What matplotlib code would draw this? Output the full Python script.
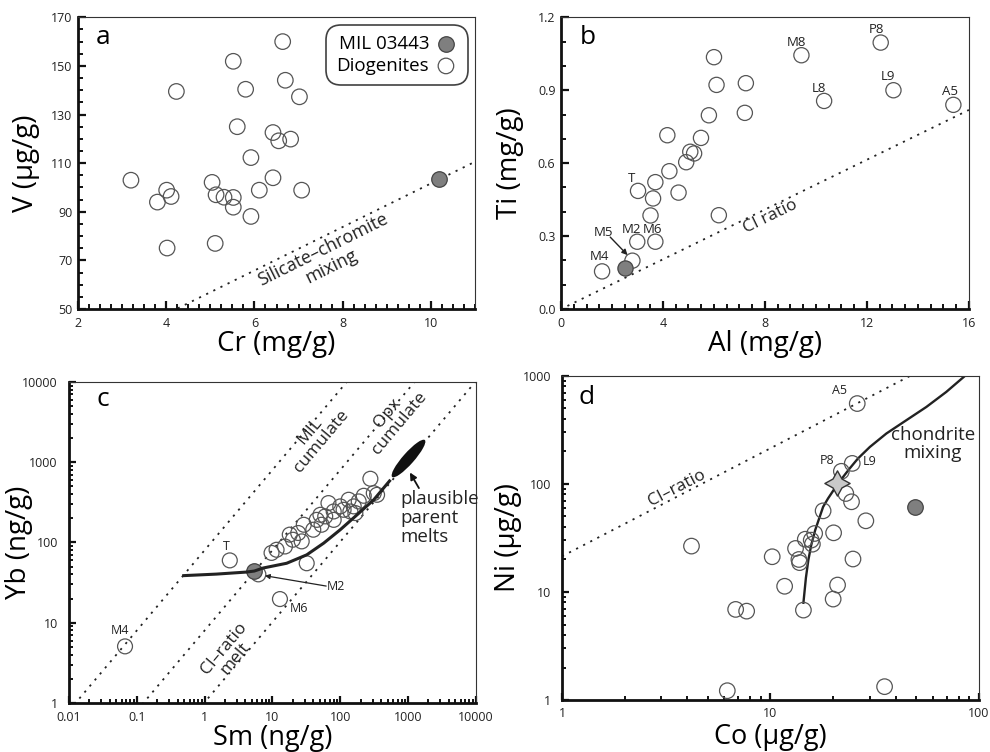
import numpy as np
import matplotlib
matplotlib.use("Agg")
import matplotlib.pyplot as plt
from matplotlib.ticker import MultipleLocator, LogLocator, NullFormatter, FixedLocator
from matplotlib.path import Path
from matplotlib.transforms import Affine2D

plt.rcParams['font.family'] = ['Open Sans', 'DejaVu Sans']

# ---------------- Data: panel a (Cr vs V) ----------------
a_dio_cr = [6.64, 5.52, 6.70, 4.23, 5.80, 7.02, 5.61, 6.42, 6.55, 6.82, 5.92, 3.20, 6.42,
            5.04, 4.01, 4.11, 3.80, 5.13, 5.31, 5.52, 5.52, 6.11, 7.07, 5.92, 5.11, 4.02]
a_dio_v = [160.0, 151.9, 144.1, 139.5, 140.4, 137.3, 125.0, 122.6, 119.2, 119.9, 112.3, 103.0, 104.0,
           102.1, 98.9, 96.3, 94.0, 97.0, 96.0, 95.9, 91.9, 98.9, 98.9, 88.1, 77.0, 75.1]
a_mil_cr = [10.19]
a_mil_v = [103.4]
a_mix_cr = [4.26, 11.0]
a_mix_v = [50.3, 110.6]
a_xticks = [2, 4, 6, 8, 10]
a_yticks = [50, 70, 90, 110, 130, 150, 170]

# ---------------- Data: panel b (Al vs Ti) ----------------
b_dio_al = [6.00, 6.10, 7.25, 5.80, 7.21, 4.17, 5.49, 5.07, 5.22, 4.91, 4.25, 3.70, 4.61,
            3.02, 3.61, 3.51, 6.19, 2.99, 3.70, 2.80, 1.61, 9.43, 12.54, 10.32, 13.04, 15.39]
b_dio_ti = [1.036, 0.922, 0.929, 0.797, 0.807, 0.715, 0.704, 0.647, 0.640, 0.604, 0.567, 0.522, 0.479,
            0.486, 0.455, 0.385, 0.386, 0.277, 0.277, 0.199, 0.155, 1.044, 1.096, 0.856, 0.900, 0.840]
b_mil_al = [2.51]
b_mil_ti = [0.170]
b_ci_al = [0.25, 16.0]
b_ci_ti = [0.0128, 0.819]
b_lab_text = ['T', 'M2', 'M6', 'M5', 'M4', 'M8', 'P8', 'L8', 'L9', 'A5']
b_lab_al = [2.78, 2.76, 3.59, 1.67, 1.52, 9.22, 12.38, 10.12, 12.81, 15.27]
b_lab_ti = [0.538, 0.329, 0.329, 0.316, 0.216, 1.097, 1.151, 0.908, 0.956, 0.895]

# ---------------- Data: panel c (Sm vs Yb) ----------------
c_dio_sm = [278, 312, 222, 187, 158, 133, 141, 100, 80, 67, 60, 51, 53, 40, 29, 24, 20, 18,
            15.3, 11.5, 9.7, 32, 349, 80, 112, 167, 45, 27, 0.067, 2.35, 6.2, 12.9]
c_dio_yb = [621, 411, 381, 324, 281, 340, 243, 281, 243, 309, 211, 221, 166, 144, 166, 131, 108, 125,
            89, 81, 74, 55, 392, 191, 255, 232, 191, 103, 5.07, 59.7, 40, 19.7]
c_mil_sm = [5.38]
c_mil_yb = [44.4]
c_ratio_names = ['MIL cumulate', 'Opx cumulate', 'CI-ratio melt']
c_ratio_values = [80.0, 8.0, 1.02]   # Yb/Sm ratios of the dotted reference lines
c_curve_sm = [0.467, 1.49, 4.1, 5.4, 7.3, 16.2, 32, 57, 100, 177, 312, 551]
c_curve_yb = [38.5, 40.3, 42.7, 44.0, 48, 55, 70, 98, 144, 221, 340, 603]
c_melt_sm = [990]
c_melt_yb = [1140]
c_xticks = [0.01, 0.1, 1, 10, 100, 1000, 10000]
c_xticklabels = ['0.01', '0.1', '1', '10', '100', '1000', '10000']
c_yticks = [1, 10, 100, 1000, 10000]
c_yticklabels = ['1', '10', '100', '1000', '10000']

# ---------------- Data: panel d (Co vs Ni) ----------------
d_dio_co = [26.1, 24.7, 21.9, 23.0, 24.5, 17.9, 28.7, 20.1, 16.3, 15.7, 14.7, 15.9, 13.2, 10.2,
            13.8, 13.7, 24.9, 11.7, 21.0, 20.0, 6.81, 7.69, 14.4, 4.18, 6.21, 35.3]
d_dio_ni = [555, 155, 131, 81.6, 68.4, 56.4, 45.6, 35.3, 34.8, 30.2, 30.8, 27.7, 25.3, 21.2,
            18.7, 20.0, 20.2, 11.3, 11.6, 8.6, 6.9, 6.65, 6.8, 26.6, 1.22, 1.33]
d_mil_co = [49.2]
d_mil_ni = [61.0]
d_star_co = [20.8]
d_star_ni = [101]
d_ci_co = [1.0, 47.0]
d_ci_ni = [21.4, 1005]
d_mix_co = [14.4, 14.8, 15.2, 15.7, 16.4, 17.9, 18.9, 21.1, 24.0, 26.3, 30.0, 36.0, 44.9, 56.0, 69.8, 85.4]
d_mix_ni = [7.95, 13.5, 19.7, 27.2, 37.4, 61.4, 73.4, 101, 139, 172, 220, 293, 389, 516, 711, 993]
d_xticks = [1, 10, 100]
d_xticklabels = ['1', '10', '100']
d_yticks = [1, 10, 100, 1000]
d_yticklabels = ['1', '10', '100', '1000']

# ---------------- styling ----------------
OPEN_EC = '#555555'
MIL_FC = '#7f7f7f'
MIL_EC = '#444444'
TICK_COL = '#222222'
LABEL_FS = 20


def style_axes(ax):
    for s in ['left', 'bottom']:
        ax.spines[s].set_linewidth(2.0)
        ax.spines[s].set_color('#111111')
    for s in ['top', 'right']:
        ax.spines[s].set_linewidth(0.8)
        ax.spines[s].set_color('#333333')
    ax.tick_params(which='both', direction='in', top=False, right=False,
                   colors='#111111', labelcolor=TICK_COL, labelsize=9)
    ax.tick_params(which='major', length=6, width=1.6)
    ax.tick_params(which='minor', length=3.5, width=1.4)
    ax.tick_params(axis='x', which='major', pad=6)
    ax.tick_params(axis='y', which='major', pad=4)


def set_labels(ax, xl, yl, xpos, ypos, xfs=LABEL_FS):
    ax.set_xlabel(xl, fontsize=xfs)
    ax.set_ylabel(yl, fontsize=LABEL_FS)
    ax.xaxis.label.set_va('center')
    ax.yaxis.label.set_va('center')
    ax.xaxis.set_label_coords(0.5, xpos)
    ax.yaxis.set_label_coords(ypos, 0.5)


def log_ticks(ax, xt, xl, yt, yl):
    ax.xaxis.set_major_locator(FixedLocator(xt))
    ax.yaxis.set_major_locator(FixedLocator(yt))
    ax.set_xticklabels(xl)
    ax.set_yticklabels(yl)
    ax.xaxis.set_minor_locator(LogLocator(base=10, subs=np.arange(2, 10), numticks=20))
    ax.yaxis.set_minor_locator(LogLocator(base=10, subs=np.arange(2, 10), numticks=20))
    ax.xaxis.set_minor_formatter(NullFormatter())
    ax.yaxis.set_minor_formatter(NullFormatter())


def open_circles(ax, x, y, s=120):
    ax.scatter(x, y, s=s, facecolors='none', edgecolors=OPEN_EC, linewidths=0.9, zorder=3)


def mil_point(ax, x, y, s=120):
    ax.scatter(x, y, s=s, facecolors=MIL_FC, edgecolors=MIL_EC, linewidths=0.9, zorder=4)


fig = plt.figure(figsize=(9.9, 7.52), dpi=100)
ax_a = fig.add_axes([0.0788, 0.589, 0.401, 0.388])
ax_b = fig.add_axes([0.5667, 0.589, 0.412, 0.388])
ax_c = fig.add_axes([0.0697, 0.0652, 0.411, 0.427])
ax_d = fig.add_axes([0.5677, 0.0691, 0.421, 0.431])

dot_style = dict(color='#222222', linestyle=(0, (1.2, 3.2)), linewidth=1.3, zorder=2)

# ---------------- panel a ----------------
ax = ax_a
ax.set_xlim(2, 11)
ax.set_ylim(50, 170)
ax.plot(a_mix_cr, a_mix_v, **dot_style)
open_circles(ax, a_dio_cr, a_dio_v, s=125)
mil_point(ax, a_mil_cr, a_mil_v, s=125)
ax.xaxis.set_major_locator(FixedLocator(a_xticks))
ax.xaxis.set_minor_locator(MultipleLocator(0.25))
ax.yaxis.set_major_locator(FixedLocator(a_yticks))
ax.yaxis.set_minor_locator(MultipleLocator(5))
style_axes(ax)
set_labels(ax, 'Cr (mg/g)', 'V (µg/g)', -0.118, -0.132)
ax.text(0.063, 0.93, 'a', transform=ax.transAxes, fontsize=19, ha='center', va='center')
ax.text(7.65, 71.0, 'Silicate–chromite\nmixing', fontsize=13, rotation=26.4,
        rotation_mode='anchor', ha='center', va='center', linespacing=1.0, color='#222222')
h1 = ax.scatter([], [], s=125, facecolors=MIL_FC, edgecolors=MIL_EC, linewidths=0.9)
h2 = ax.scatter([], [], s=125, facecolors='none', edgecolors=OPEN_EC, linewidths=0.9)
leg = ax.legend([h1, h2], ['MIL 03443', 'Diogenites'], loc='upper right', markerfirst=False,
                fontsize=13.5, frameon=True, fancybox=True, edgecolor='#111111',
                borderaxespad=0.6, handletextpad=0.3, borderpad=0.35, labelspacing=0.2,
                handlelength=1.2)
leg.get_frame().set_linewidth(1.2)
leg.get_frame().set_boxstyle('round,pad=0.2,rounding_size=0.8')

# ---------------- panel b ----------------
ax = ax_b
ax.set_xlim(0, 16)
ax.set_ylim(0, 1.2)
ax.plot(b_ci_al, b_ci_ti, **dot_style)
open_circles(ax, b_dio_al, b_dio_ti, s=120)
mil_point(ax, b_mil_al, b_mil_ti, s=120)
ax.xaxis.set_major_locator(MultipleLocator(4))
ax.xaxis.set_minor_locator(MultipleLocator(0.5))
ax.yaxis.set_major_locator(MultipleLocator(0.3))
ax.yaxis.set_minor_locator(MultipleLocator(0.1))
ax.yaxis.set_major_formatter(matplotlib.ticker.FormatStrFormatter('%.1f'))
style_axes(ax)
set_labels(ax, 'Al (mg/g)', 'Ti (mg/g)', -0.118, -0.125)
ax.text(0.066, 0.93, 'b', transform=ax.transAxes, fontsize=19, ha='center', va='center')
ax.text(8.2, 0.381, 'CI ratio', fontsize=12.5, rotation=26, rotation_mode='anchor',
        ha='center', va='center', color='#222222')
for t, x, y in zip(b_lab_text, b_lab_al, b_lab_ti):
    ax.text(x, y, t, fontsize=9.5, ha='center', va='center', color='#222222')
ax.annotate('', xy=(2.61, 0.222), xytext=(1.93, 0.296),
            arrowprops=dict(arrowstyle='-|>', color='#222222', lw=1.0,
                            mutation_scale=8, shrinkA=0, shrinkB=0))

# ---------------- panel c ----------------
ax = ax_c
ax.set_xscale('log')
ax.set_yscale('log')
ax.set_xlim(0.01, 10000)
ax.set_ylim(1, 10000)
xs_ref = np.array([0.005, 20000.0])
for r in c_ratio_values:
    ax.plot(xs_ref, xs_ref * r, **dot_style)
open_circles(ax, c_dio_sm, c_dio_yb, s=115)
ax.plot(c_curve_sm, c_curve_yb, color='#222222', lw=2.2, zorder=5, solid_capstyle='butt')
mil_point(ax, c_mil_sm, c_mil_yb, s=125)
ell = Path.unit_circle().transformed(Affine2D().scale(1.0, 0.23).rotate_deg(48.5))
ax.plot(c_melt_sm, c_melt_yb, marker=ell, markersize=28, color='#111111',
        markeredgewidth=0, linestyle='none', zorder=6)
log_ticks(ax, c_xticks, c_xticklabels, c_yticks, c_yticklabels)
style_axes(ax)
ax.tick_params(which='major', length=5)
ax.tick_params(which='minor', length=3)
ax.tick_params(axis='x', which='major', pad=6)
ax.tick_params(axis='y', which='major', pad=8)
set_labels(ax, 'Sm (ng/g)', 'Yb (ng/g)', -0.109, -0.122, xfs=19.5)
ax.text(0.084, 0.944, 'c', transform=ax.transAxes, fontsize=19, ha='center', va='center')
ax.text(42.7, 2088, 'MIL\ncumulate', fontsize=12.5, rotation=50, rotation_mode='anchor',
        ha='center', va='center', linespacing=0.95, color='#222222')
ax.text(617, 3530, 'Opx\ncumulate', fontsize=12.5, rotation=50, rotation_mode='anchor',
        ha='center', va='center', linespacing=0.95, color='#222222')
ax.text(2.34, 4.19, 'CI–ratio\nmelt', fontsize=12.5, rotation=50, rotation_mode='anchor',
        ha='center', va='center', linespacing=0.95, color='#222222')
ax.text(774, 201, 'plausible\nparent\nmelts', fontsize=13.5, ha='left', va='center',
        linespacing=1.05, color='#222222')
ax.annotate('', xy=(1064, 743), xytext=(1445, 475),
            arrowprops=dict(arrowstyle='-|>', color='#111111', lw=1.3,
                            mutation_scale=10, shrinkA=0, shrinkB=0))
ax.text(2.1, 89, 'T', fontsize=9, ha='center', va='center', color='#222222')
ax.text(25, 15.2, 'M6', fontsize=9, ha='center', va='center', color='#222222')
ax.text(0.0564, 8.03, 'M4', fontsize=9, ha='center', va='center', color='#222222')
ax.text(63.4, 28.3, 'M2', fontsize=9, ha='left', va='center', color='#222222')
ax.annotate('', xy=(7.74, 38.5), xytext=(62, 28.6),
            arrowprops=dict(arrowstyle='-|>', color='#222222', lw=0.9,
                            mutation_scale=7, shrinkA=0, shrinkB=0))

# ---------------- panel d ----------------
ax = ax_d
ax.set_xscale('log')
ax.set_yscale('log')
ax.set_xlim(1, 100)
ax.set_ylim(1, 1000)
ax.plot(d_ci_co, d_ci_ni, **dot_style)
ax.plot(d_mix_co, d_mix_ni, color='#222222', lw=1.7, zorder=2)
open_circles(ax, d_dio_co, d_dio_ni, s=125)
mil_point(ax, d_mil_co, d_mil_ni, s=125)
ax.scatter(d_star_co, d_star_ni, marker=(4, 1, 0), s=330, facecolors='#c9c9c9',
           edgecolors='#333333', linewidths=1.0, zorder=6)
log_ticks(ax, d_xticks, d_xticklabels, d_yticks, d_yticklabels)
style_axes(ax)
ax.tick_params(which='major', length=5)
ax.tick_params(which='minor', length=3)
ax.tick_params(axis='x', which='major', pad=5)
ax.tick_params(axis='y', which='major', pad=8)
set_labels(ax, 'Co (µg/g)', 'Ni (µg/g)', -0.115, -0.13, xfs=19.5)
ax.text(0.06, 0.932, 'd', transform=ax.transAxes, fontsize=19, ha='center', va='center')
ax.text(3.55, 90.8, 'CI–ratio', fontsize=12.5, rotation=27.3, rotation_mode='anchor',
        ha='center', va='center', color='#222222')
ax.text(60.2, 235, 'chondrite\nmixing', fontsize=13.5, ha='center', va='center',
        linespacing=1.05, color='#222222')
ax.text(21.5, 727, 'A5', fontsize=9, ha='center', va='center', color='#222222')
ax.text(18.6, 166, 'P8', fontsize=9, ha='center', va='center', color='#222222')
ax.text(29.9, 163, 'L9', fontsize=9, ha='center', va='center', color='#222222')

fig.savefig('out.png', dpi=100)
